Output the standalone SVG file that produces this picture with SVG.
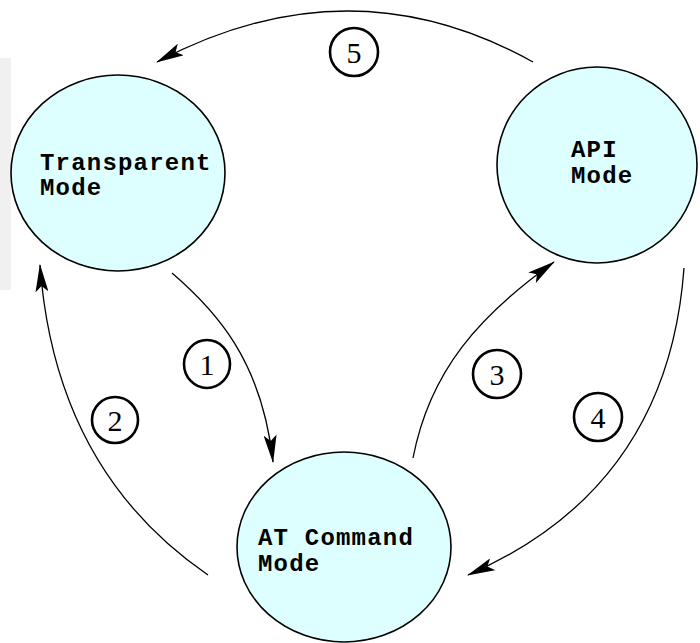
<svg xmlns="http://www.w3.org/2000/svg" width="700" height="643" viewBox="0 0 700 643">
<style>
.node{fill:#ddffff;stroke:#000;stroke-width:1.6}
.nt{font-family:"Liberation Mono",monospace;font-weight:bold;font-size:24px;letter-spacing:1.2px;fill:#000}
.conn{fill:none;stroke:#000;stroke-width:1.3}
.lc{fill:#fff;stroke:#000;stroke-width:2.6}
.lt{font-family:"Liberation Serif",serif;font-size:30px;fill:#000;text-anchor:middle}
</style>
<defs>
<marker id="ah" viewBox="0 0 28 13" refX="27" refY="6.5" markerWidth="28" markerHeight="13" markerUnits="userSpaceOnUse" orient="auto">
<path d="M0,0 L28,6.5 L0,13 L6,6.5 z" fill="#000"/>
</marker>
</defs>
<rect x="0" y="0" width="700" height="643" fill="#fff"/>
<rect x="0" y="58" width="11" height="232" fill="#f0f0f0"/>
<g id="transparent">
<ellipse class="node" cx="118" cy="173" rx="107" ry="98"/>
<text class="nt" x="40" y="170">Transparent</text>
<text class="nt" x="40" y="195">Mode</text>
</g>
<g id="api">
<ellipse class="node" cx="597" cy="165" rx="100" ry="98"/>
<text class="nt" x="571" y="157">API</text>
<text class="nt" x="571" y="183">Mode</text>
</g>
<g id="atcmd">
<ellipse class="node" cx="344" cy="547" rx="107" ry="95"/>
<text class="nt" x="258" y="545">AT Command</text>
<text class="nt" x="258" y="571">Mode</text>
</g>
<g id="connectors">
<path class="conn" d="M172,273 C215,310 262,360 273,462" marker-end="url(#ah)"/>
<path class="conn" d="M208,575 Q55,470 40,265" marker-end="url(#ah)"/>
<path class="conn" d="M413,458 C430,370 480,315 554,262" marker-end="url(#ah)"/>
<path class="conn" d="M684,268 Q668,488 468,575" marker-end="url(#ah)"/>
<path class="conn" d="M533,62 Q350,-40 157,62" marker-end="url(#ah)"/>
</g>
<g id="labels">
<ellipse class="lc" cx="207" cy="364" rx="23" ry="24"/>
<text class="lt" x="207" y="375">1</text>
<ellipse class="lc" cx="115" cy="420" rx="23" ry="23"/>
<text class="lt" x="115" y="431">2</text>
<ellipse class="lc" cx="497" cy="374" rx="24" ry="24"/>
<text class="lt" x="497" y="385">3</text>
<ellipse class="lc" cx="598" cy="417" rx="24" ry="24"/>
<text class="lt" x="598" y="428">4</text>
<ellipse class="lc" cx="354" cy="52" rx="24" ry="24"/>
<text class="lt" x="354" y="63">5</text>
</g>
</svg>
